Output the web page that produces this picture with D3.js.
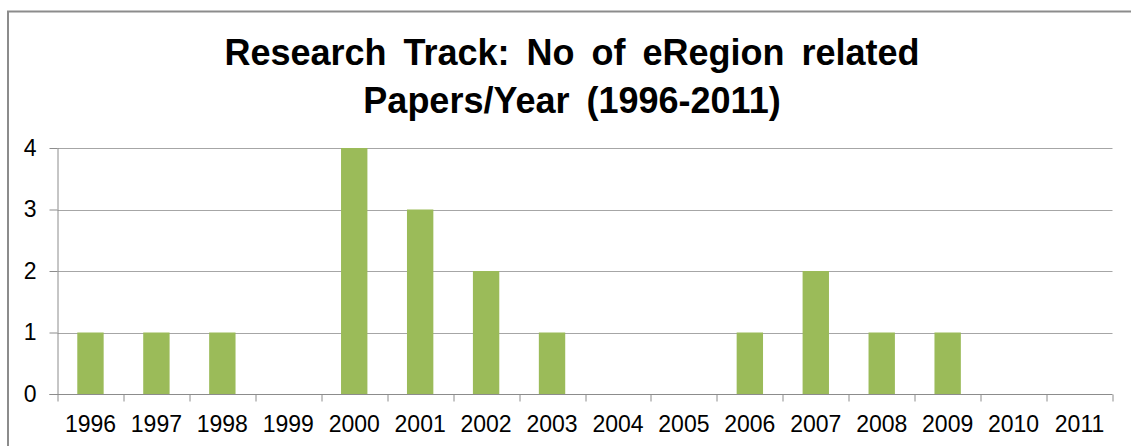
<!DOCTYPE html>
<html>
<head>
<meta charset="utf-8">
<script src="https://cdn.jsdelivr.net/npm/d3@7"></script>
<style>
    body { margin: 0; background: #fff; }
    svg { display: block; }
    text { font-family: "Liberation Sans", Arial, sans-serif; fill: #000; }
</style>
</head>
<body>
<div id="chart"></div>
<script>
const years = ["1996", "1997", "1998", "1999", "2000", "2001", "2002", "2003",
    "2004", "2005", "2006", "2007", "2008", "2009", "2010", "2011"];
const papers = [1, 1, 1, 0, 4, 3, 2, 1, 0, 0, 1, 2, 1, 1, 0, 0];
const yTicks = [0, 1, 2, 3, 4];
const titleLines = ["Research Track: No of eRegion related", "Papers/Year (1996-2011)"];

const W = 1131, H = 446;
const margin = { top: 148, right: 18.5, bottom: 52, left: 57.5 };
const width = W - margin.left - margin.right;
const height = H - margin.top - margin.bottom;

const svg = d3.select('#chart')
    .append('svg')
    .attr('width', W)
    .attr('height', H);

// outer frame
svg.append('path')
    .attr('d', `M8,${H} V11.5 H${W}`)
    .attr('fill', 'none')
    .attr('stroke', '#8c8c8c')
    .attr('stroke-width', 2);

// title
svg.append('text')
    .attr('text-anchor', 'middle')
    .style('font-size', '36px')
    .style('font-weight', 'bold')
    .style('word-spacing', '7px')
    .selectAll('tspan')
    .data(titleLines)
    .enter()
    .append('tspan')
    .attr('x', 572)
    .attr('y', (d, i) => 65 + i * 48)
    .text(d => d);

const g = svg.append('g')
    .attr('transform', `translate(${margin.left},${margin.top})`);

const x = d3.scaleBand()
    .domain(years)
    .range([0, width])
    .paddingInner(0.6)
    .paddingOuter(0.3);

const y = d3.scaleLinear()
    .domain([0, 4])
    .range([height, 0]);

// gridlines
g.selectAll('.grid')
    .data(yTicks.filter(d => d > 0))
    .enter()
    .append('line')
    .attr('class', 'grid')
    .attr('x1', 0)
    .attr('x2', width)
    .attr('y1', d => Math.round(y(d)) + 0.5)
    .attr('y2', d => Math.round(y(d)) + 0.5)
    .attr('stroke', '#a6a6a6')
    .attr('stroke-width', 1);

// bars
g.selectAll('.bar')
    .data(papers)
    .enter()
    .append('rect')
    .attr('class', 'bar')
    .attr('x', (d, i) => x(years[i]))
    .attr('width', x.bandwidth())
    .attr('y', d => y(d))
    .attr('height', d => height - y(d))
    .attr('fill', '#9bbb59');

// y axis
const yAxis = g.append('g')
    .call(d3.axisLeft(y).tickValues(yTicks).tickSize(8).tickPadding(13).tickFormat(d3.format('d')));
yAxis.selectAll('text').style('font-size', '23px');

// x axis: ticks at category boundaries
const step = x.step();
const xg = g.append('g').attr('transform', `translate(0,${Math.round(height) + 0.5})`);
xg.append('line')
    .attr('x1', -8).attr('x2', width)
    .attr('stroke', '#8c8c8c');
xg.selectAll('.tick')
    .data(d3.range(years.length + 1))
    .enter()
    .append('line')
    .attr('x1', i => Math.round(i * step) + 0.5)
    .attr('x2', i => Math.round(i * step) + 0.5)
    .attr('y1', 0)
    .attr('y2', 7)
    .attr('stroke', '#8c8c8c');
xg.selectAll('.lbl')
    .data(years)
    .enter()
    .append('text')
    .attr('x', d => x(d) + x.bandwidth() / 2)
    .attr('y', 37)
    .attr('text-anchor', 'middle')
    .style('font-size', '23px')
    .text(d => d);

yAxis.select('.domain').attr('stroke', '#8c8c8c').attr('d', `M0.5,0V${height}`);
yAxis.selectAll('.tick line').attr('stroke', '#8c8c8c');
</script>
</body>
</html>
